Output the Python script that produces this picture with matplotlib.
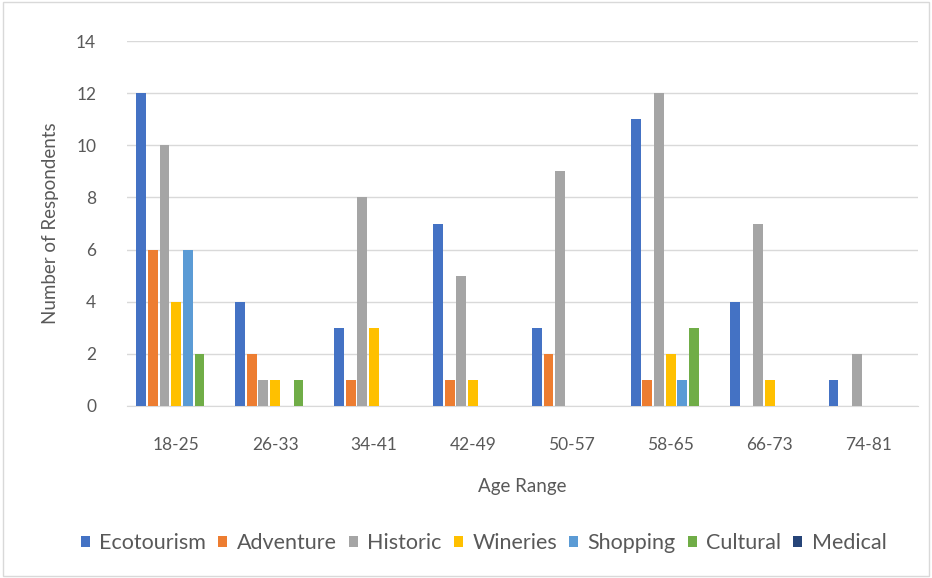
import numpy as np
import matplotlib.pyplot as plt

plt.rcParams['font.family'] = ['Lato', 'DejaVu Sans']

age_ranges = ['18-25', '26-33', '34-41', '42-49', '50-57', '58-65', '66-73', '74-81']
ecotourism = [12, 4, 3, 7, 3, 11, 4, 1]
adventure = [6, 2, 1, 1, 2, 1, 0, 0]
historic = [10, 1, 8, 5, 9, 12, 7, 2]
wineries = [4, 1, 3, 1, 0, 2, 1, 0]
shopping = [6, 0, 0, 0, 0, 1, 0, 0]
cultural = [2, 1, 0, 0, 0, 3, 0, 0]
medical = [0, 0, 0, 0, 0, 0, 0, 0]

series = [
    ('Ecotourism', ecotourism, '#4472C4'),
    ('Adventure', adventure, '#ED7D31'),
    ('Historic', historic, '#A5A5A5'),
    ('Wineries', wineries, '#FFC000'),
    ('Shopping', shopping, '#5B9BD5'),
    ('Cultural', cultural, '#70AD47'),
    ('Medical', medical, '#264478'),
]

fig = plt.figure(figsize=(9.32, 5.78), dpi=100)
ax = fig.add_axes([0.136, 0.2976, 0.849, 0.6314])

x = np.arange(len(age_ranges))
pitch = 0.118
width = 0.1
for i, (name, vals, col) in enumerate(series):
    ax.bar(x + (i - 3) * pitch, vals, width, color=col, label=name, zorder=3)

ax.set_xlim(-0.5, 7.5)
ax.set_ylim(0, 14)
ax.set_yticks(range(0, 15, 2))
ax.set_xticks(x)
ax.set_xticklabels(age_ranges)
ax.grid(axis='y', color='#D9D9D9', linewidth=1, zorder=0)
for s in ['top', 'right', 'left']:
    ax.spines[s].set_visible(False)
ax.spines['bottom'].set_color('#D9D9D9')
ax.tick_params(axis='both', length=0, labelsize=12.5, colors='#595959')
ax.tick_params(axis='x', pad=22)
ax.tick_params(axis='y', pad=22)

ax.set_xlabel('Age Range', fontsize=13.5, color='#595959', labelpad=18)
ax.set_ylabel('Number of Respondents', fontsize=13.5, color='#595959', labelpad=12)

leg = fig.legend(loc='center', bbox_to_anchor=(0.519, 0.06), ncol=7, frameon=False,
                 fontsize=15.5, handlelength=0.42, handleheight=0.42, handletextpad=0.45,
                 columnspacing=0.55)
for t in leg.get_texts():
    t.set_color('#595959')

border = plt.Rectangle((0.003, 0.003), 0.994, 0.994, transform=fig.transFigure,
                       fill=False, edgecolor='#D9D9D9', linewidth=1)
fig.patches.append(border)

fig.savefig('out.png', dpi=100)
